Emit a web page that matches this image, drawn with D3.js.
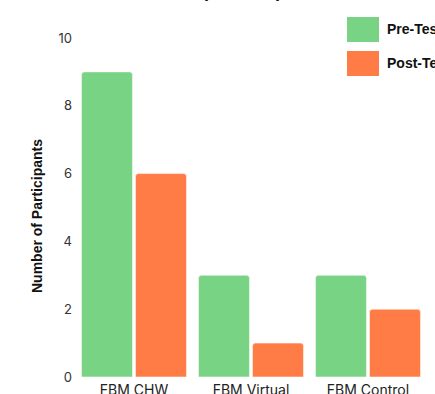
<!DOCTYPE html>
<html>
<head>
<meta charset="utf-8">
<script src="https://cdn.jsdelivr.net/npm/d3@7"></script>
<style>
  html, body { margin: 0; padding: 0; background: #fff; }
  svg { display: block; }
</style>
</head>
<body>
<svg id="chart" width="435" height="394"></svg>
<script>
// Participant counts before and after the test, per group
const categories = ["FBM CHW", "FBM Virtual", "FBM Control"];
const seriesNames = ["Pre-Test", "Post-Test"];
const preTest = [9, 3, 3];
const postTest = [6, 1, 2];
const yTicks = [0, 2, 4, 6, 8, 10];
const colors = ["#78D484", "#FF7C46"];

const svg = d3.select("#chart");
const rows = categories.map((c, i) => ({ cat: c, values: [preTest[i], postTest[i]] }));

const y = d3.scaleLinear().domain([0, 10]).range([377, 38]);
const x0 = d3.scaleBand().domain(categories).range([75.5, 426.5])
  .paddingInner(0.1026).paddingOuter(0.0513);
const x1 = d3.scaleBand().domain(seriesNames).range([0, x0.bandwidth()])
  .paddingInner(0.0556).paddingOuter(0);

// Title (sits mostly above the visible area)
svg.append("text")
  .attr("x", 245).attr("y", -3)
  .attr("text-anchor", "middle")
  .attr("font-family", "Liberation Sans, Arial, sans-serif")
  .attr("font-weight", "bold").attr("font-size", 18)
  .attr("fill", "#111")
  .text("Group Participation");

// Y axis (labels only)
const yAxis = svg.append("g")
  .attr("transform", "translate(72,0)")
  .call(d3.axisLeft(y).tickValues(yTicks).tickSize(0).tickPadding(0));
yAxis.select(".domain").remove();
yAxis.selectAll("text")
  .attr("font-family", "Inter, Lato, sans-serif")
  .attr("font-size", 13)
  .attr("fill", "#333");

svg.append("text")
  .attr("transform", "translate(42,216) rotate(-90)")
  .attr("text-anchor", "middle")
  .attr("font-family", "Liberation Sans, Arial, sans-serif")
  .attr("font-weight", "bold").attr("font-size", 14)
  .attr("fill", "#111")
  .text("Number of Participants");

// Rounded-top bar path
function barPath(xp, w, yTop, yBase, r) {
  r = Math.min(r, w / 2, (yBase - yTop) / 2);
  return `M${xp},${yBase}V${yTop + r}Q${xp},${yTop} ${xp + r},${yTop}` +
         `H${xp + w - r}Q${xp + w},${yTop} ${xp + w},${yTop + r}V${yBase}Z`;
}

const groups = svg.append("g").selectAll("g")
  .data(rows).join("g")
  .attr("transform", d => `translate(${x0(d.cat)},0)`);

groups.selectAll("path")
  .data(d => d.values.map((v, i) => ({ key: seriesNames[i], v, i })))
  .join("path")
  .attr("d", d => barPath(x1(d.key), x1.bandwidth(), y(d.v), y(0), 3))
  .attr("fill", d => colors[d.i])
  .attr("stroke", "#ffffff")
  .attr("stroke-opacity", 0.5)
  .attr("stroke-width", 1);

// Category labels
const xAxis = svg.append("g")
  .attr("transform", "translate(0,395)")
  .call(d3.axisBottom(x0).tickSize(0).tickPadding(0));
xAxis.select(".domain").remove();
xAxis.selectAll("text")
  .attr("dy", "0")
  .attr("font-family", "Inter, Lato, sans-serif")
  .attr("font-size", 14)
  .attr("fill", "#222");

// Legend
const legend = svg.append("g").selectAll("g")
  .data(seriesNames).join("g")
  .attr("transform", (d, i) => `translate(347,${17 + i * 34})`);
legend.append("rect")
  .attr("width", 32).attr("height", 25)
  .attr("fill", (d, i) => colors[i]);
legend.append("text")
  .attr("x", 40).attr("y", 12.5).attr("dy", "0.35em")
  .attr("font-family", "Liberation Sans, Arial, sans-serif")
  .attr("font-weight", "bold").attr("font-size", 14)
  .attr("fill", "#111")
  .text(d => d);
</script>
</body>
</html>
